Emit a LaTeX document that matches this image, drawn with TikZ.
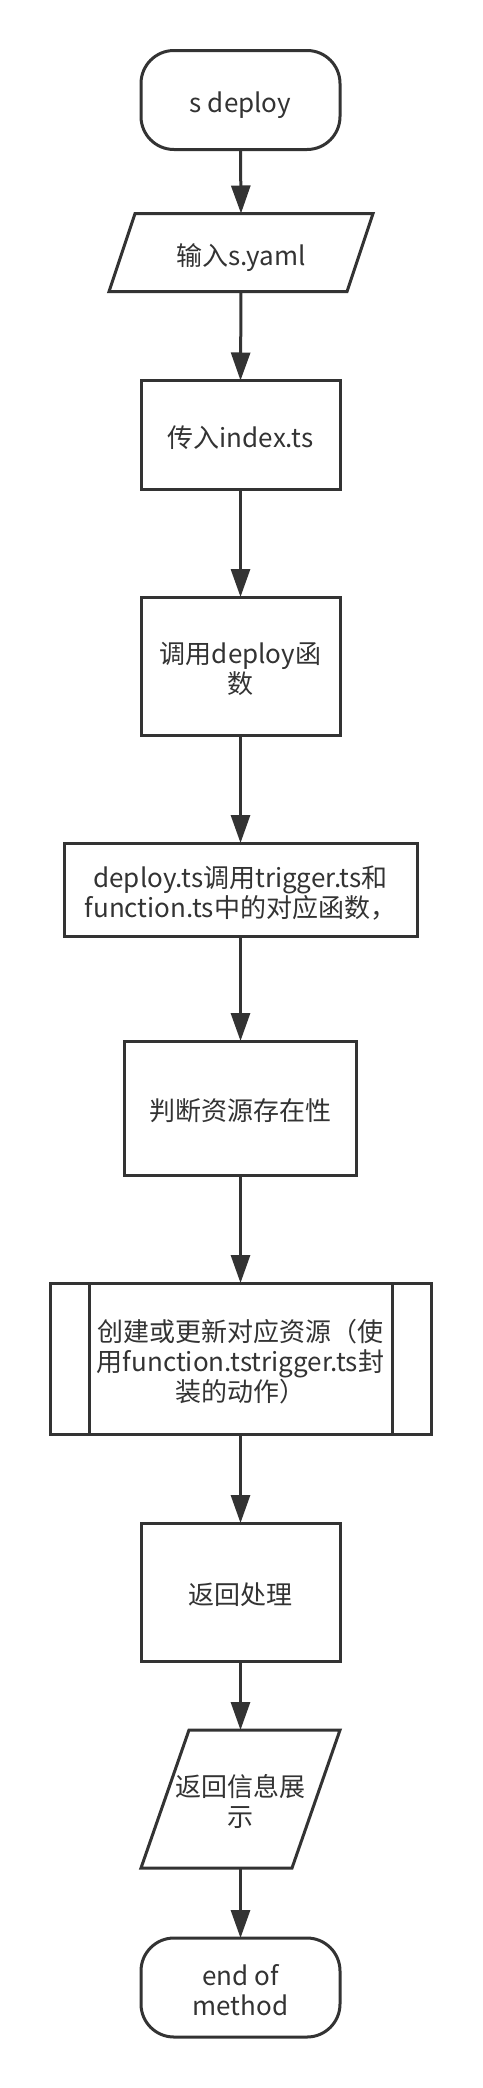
\documentclass[tikz,border=0pt]{standalone}
\usepackage{fontspec}
\setmainfont{Noto Sans CJK SC}
\usetikzlibrary{arrows.meta}
\definecolor{linec}{HTML}{333333}
\definecolor{txtc}{HTML}{333333}
\newcommand\topst{\rule{0pt}{32pt}}
\newcommand\botst{\rule[-7pt]{0pt}{7pt}}
\tikzset{
  base/.style={inner sep=0pt, outer sep=0pt, align=center, text=txtc,
               font=\fontsize{26}{30}\selectfont},
  proc/.style={base, rectangle, draw=linec, line width=3pt},
  term/.style={proc, rounded corners=33pt},
  iobox/.style={base, rectangle, draw=none},
  shp/.style={draw=linec, line width=3pt, line join=miter},
  arr/.style={draw=linec, line width=3pt, -{Triangle[length=28pt,width=19pt]}}
}
\begin{document}
\begin{tikzpicture}[x=1pt,y=-1pt]
\useasboundingbox (0,0) rectangle (482,2088);
\fill[white] (0,0) rectangle (482,2088);

\node[term, minimum width=199pt, minimum height=99pt] (start) at (240.5,100) {\topst s deploy\botst};
\node[iobox, minimum width=264pt, minimum height=78pt] (p1) at (241,252.5) {\topst 输入s.yaml\botst};
\draw[shp] ([xshift=26pt]p1.north west) -- (p1.north east) -- ([xshift=-26pt]p1.south east) -- (p1.south west) -- cycle;
\node[proc, minimum width=199pt, minimum height=109pt] (b2) at (240.5,435) {\topst 传入index.ts\botst};
\node[proc, minimum width=199pt, minimum height=138pt] (b3) at (240.5,666) {\topst 调用deploy函\\数\botst};
\node[proc, minimum width=353pt, minimum height=93pt] (b4) at (240.5,889.5) {\topst deploy.ts调用trigger.ts和\\function.ts中的对应函数，\botst};
\node[proc, minimum width=232pt, minimum height=134pt] (b5) at (240.5,1108) {\topst 判断资源存在性\botst};
\node[proc, minimum width=381pt, minimum height=151pt] (pred) at (240.5,1358.5) {\topst 创建或更新对应资源（使\\用function.tstrigger.ts封\\装的动作）\botst};
\draw[shp] ([xshift=39pt]pred.north west) -- ([xshift=39pt]pred.south west);
\draw[shp] ([xshift=-39pt]pred.north east) -- ([xshift=-39pt]pred.south east);
\node[proc, minimum width=199pt, minimum height=138pt] (b7) at (240.5,1592) {\topst 返回处理\botst};
\node[iobox, minimum width=199pt, minimum height=138pt] (p2) at (240.5,1799) {\topst 返回信息展\\示\botst};
\draw[shp] ([xshift=48pt]p2.north west) -- (p2.north east) -- ([xshift=-48pt]p2.south east) -- (p2.south west) -- cycle;
\node[term, minimum width=199pt, minimum height=99pt] (end) at (240.5,1987.5) {\topst end of\\method\botst};

\draw[arr] (start.south) -- (p1.north);
\draw[arr] (p1.south) -- (b2.north);
\draw[arr] (b2.south) -- (b3.north);
\draw[arr] (b3.south) -- (b4.north);
\draw[arr] (b4.south) -- (b5.north);
\draw[arr] (b5.south) -- (pred.north);
\draw[arr] (pred.south) -- (b7.north);
\draw[arr] (b7.south) -- (p2.north);
\draw[arr] (p2.south) -- (end.north);
\end{tikzpicture}
\end{document}
